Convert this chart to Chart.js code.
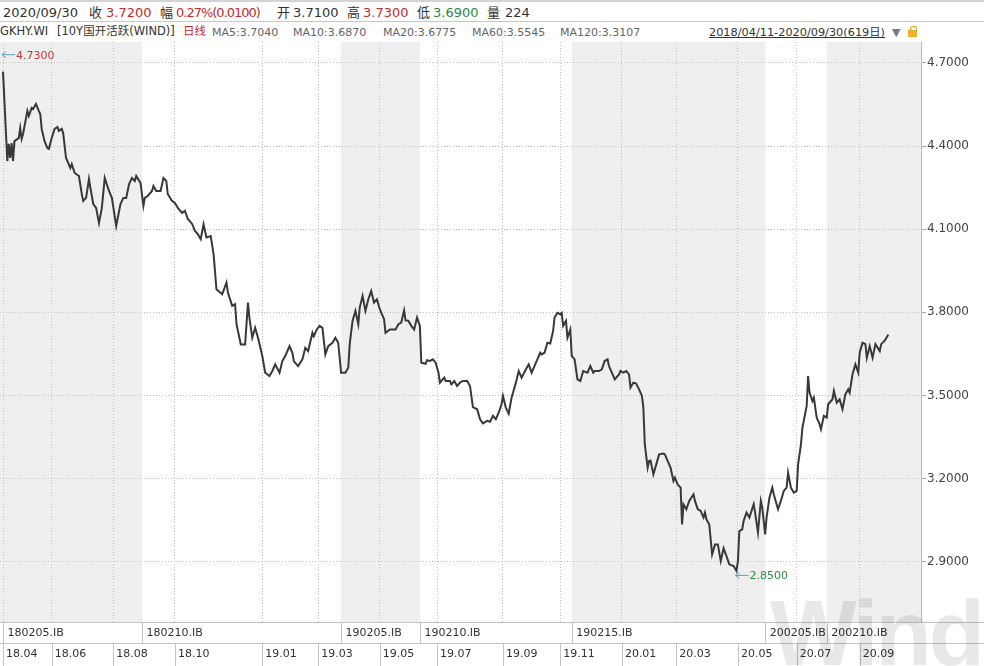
<!DOCTYPE html>
<html><head><meta charset="utf-8">
<script src="https://cdn.jsdelivr.net/npm/chart.js@4.4.0/dist/chart.umd.min.js"></script>
<style>
html,body{margin:0;padding:0;background:#fff;}
#wrap{position:relative;width:984px;height:666px;overflow:hidden;font-family:"DejaVu Sans","Noto Sans CJK SC",sans-serif;background:#fff;}
.t{position:absolute;white-space:nowrap;line-height:1;}
.r1{font-size:13px;top:6px;color:#333;}
.r2{font-size:11.5px;top:26px;color:#333;}
.ma{color:#666;font-size:11px;top:27px;}
.red{color:#c62b2b;}
.grn{color:#248a3d;}
#cv{position:absolute;left:0;top:42px;}
#wm{position:absolute;left:770px;top:587px;font-family:"Liberation Sans",sans-serif;font-weight:bold;font-size:92px;color:rgba(0,0,0,0.09);line-height:1;pointer-events:none;letter-spacing:-3px;}
</style>
</head><body>
<div id="wrap">
  <div style="position:absolute;left:0;top:0;width:984px;height:2px;background:#d4d4d4;"></div>
  <div style="position:absolute;left:0;top:21px;width:984px;height:1px;background:#c8c8c8;"></div>
  <span class="t r1" style="left:3px">2020/09/30</span>
  <span class="t r1" style="left:89px">收</span>
  <span class="t r1 red" style="left:106px">3.7200</span>
  <span class="t r1" style="left:160px">幅</span>
  <span class="t r1 red" style="left:176px;letter-spacing:-1px">0.27%(0.0100)</span>
  <span class="t r1" style="left:277px">开</span>
  <span class="t r1" style="left:293px">3.7100</span>
  <span class="t r1" style="left:347px">高</span>
  <span class="t r1 red" style="left:363px">3.7300</span>
  <span class="t r1" style="left:417px">低</span>
  <span class="t r1 grn" style="left:433px">3.6900</span>
  <span class="t r1" style="left:487px">量</span>
  <span class="t r1" style="left:505px">224</span>

  <span class="t r2" style="left:0px">GKHY.WI</span>
  <span class="t r2" style="left:57px">[10Y国开活跃(WIND)]</span>
  <span class="t r2 red" style="left:183px">日线</span>
  <span class="t r2 ma" style="left:212px">MA5:3.7040</span>
  <span class="t r2 ma" style="left:293px">MA10:3.6870</span>
  <span class="t r2 ma" style="left:383px">MA20:3.6775</span>
  <span class="t r2 ma" style="left:472px">MA60:3.5545</span>
  <span class="t r2 ma" style="left:560px">MA120:3.3107</span>
  <span class="t r2" style="left:709px;font-size:11.3px;top:27px;text-decoration:underline;">2018/04/11-2020/09/30(619日)</span>
  <span class="t r2" style="left:892px;color:#777;font-size:11px;top:27px">▼</span>
  <div style="position:absolute;left:908px;top:30px;width:9px;height:7px;background:#f0b030;"></div>
  <div style="position:absolute;left:910px;top:26px;width:5px;height:4px;border:1px solid #e0a020;border-bottom:none;border-radius:3px 3px 0 0;"></div>

  <canvas id="cv" width="984" height="624"></canvas>
  <div id="wm">Wind</div>
</div>
<script>
// ---- data ----
const dayIndex = [0,3,4,5,6,7,8,11,12,13,14,17,18,20,21,23,25,26,27,29,31,32,34,36,38,39,41,42,44,47,48,50,53,55,56,58,60,61,63,65,67,69,71,74,76,79,82,84,86,88,90,92,93,96,98,99,101,104,105,107,110,112,114,115,118,120,122,125,127,129,132,134,136,138,140,142,145,147,149,153,156,157,160,162,163,166,169,171,172,174,176,178,181,183,186,188,190,193,195,197,200,202,203,206,209,211,213,216,217,219,221,223,225,227,230,232,234,236,239,241,242,244,246,248,249,251,253,255,257,259,261,263,266,267,270,274,276,278,280,281,283,285,287,289,291,292,295,296,298,300,302,304,305,308,309,312,313,315,317,319,321,324,326,328,331,333,335,338,340,342,344,346,348,349,351,353,355,358,360,362,365,367,369,371,373,375,376,378,380,382,384,385,387,389,390,391,393,394,396,397,399,401,403,405,408,410,412,413,416,418,420,422,423,425,427,430,431,433,435,437,438,440,442,444,446,447,448,450,451,452,454,456,458,461,462,465,466,468,469,471,473,474,475,477,479,482,483,485,487,489,490,491,493,495,497,499,501,503,505,507,510,512,513,514,516,517,519,521,524,525,527,529,530,532,533,535,537,538,541,543,545,547,548,550,552,554,555,557,558,561,562,563,565,566,568,570,571,573,575,576,579,580,582,584,586,588,590,591,593,595,597,598,600,602,603,605,607,609,612,613,615,616,618];
const closeValues = [4.669,4.346,4.408,4.357,4.411,4.346,4.418,4.429,4.465,4.426,4.444,4.527,4.509,4.538,4.534,4.552,4.527,4.516,4.462,4.418,4.393,4.390,4.429,4.462,4.469,4.455,4.462,4.447,4.357,4.321,4.335,4.303,4.292,4.227,4.202,4.213,4.281,4.249,4.191,4.177,4.122,4.177,4.285,4.238,4.213,4.112,4.191,4.213,4.213,4.263,4.285,4.274,4.292,4.267,4.184,4.213,4.220,4.238,4.256,4.238,4.238,4.285,4.274,4.227,4.202,4.195,4.177,4.159,4.166,4.137,4.119,4.094,4.082,4.064,4.118,4.070,4.075,4.009,3.883,3.865,3.907,3.871,3.823,3.829,3.757,3.684,3.684,3.835,3.781,3.708,3.744,3.708,3.642,3.582,3.570,3.588,3.612,3.582,3.624,3.642,3.678,3.654,3.624,3.606,3.630,3.672,3.660,3.726,3.714,3.738,3.751,3.744,3.648,3.678,3.690,3.708,3.690,3.582,3.582,3.600,3.684,3.769,3.805,3.757,3.817,3.859,3.805,3.847,3.877,3.835,3.847,3.811,3.775,3.726,3.738,3.738,3.757,3.763,3.807,3.771,3.769,3.751,3.738,3.781,3.751,3.618,3.614,3.627,3.624,3.630,3.618,3.582,3.546,3.564,3.552,3.552,3.540,3.552,3.534,3.546,3.552,3.552,3.534,3.458,3.450,3.414,3.399,3.408,3.405,3.426,3.414,3.438,3.468,3.498,3.456,3.434,3.492,3.546,3.588,3.564,3.594,3.612,3.582,3.606,3.630,3.654,3.648,3.654,3.690,3.687,3.733,3.781,3.798,3.793,3.798,3.751,3.769,3.708,3.738,3.642,3.630,3.558,3.552,3.588,3.582,3.606,3.582,3.588,3.588,3.594,3.624,3.630,3.606,3.582,3.558,3.576,3.588,3.582,3.588,3.576,3.528,3.546,3.543,3.522,3.498,3.456,3.323,3.239,3.263,3.265,3.215,3.251,3.287,3.290,3.287,3.251,3.239,3.191,3.203,3.178,3.167,3.034,3.107,3.089,3.119,3.143,3.119,3.089,3.083,3.059,3.077,3.053,3.034,2.926,2.962,2.962,2.902,2.948,2.920,2.890,2.884,2.866,2.902,3.010,3.016,3.047,3.077,3.059,3.107,3.077,3.005,3.119,3.095,2.998,3.059,3.131,3.167,3.143,3.089,3.119,3.155,3.167,3.221,3.167,3.149,3.155,3.251,3.323,3.383,3.462,3.570,3.510,3.480,3.492,3.420,3.396,3.378,3.426,3.420,3.468,3.486,3.516,3.474,3.486,3.450,3.504,3.522,3.510,3.576,3.612,3.582,3.654,3.690,3.685,3.636,3.678,3.636,3.685,3.660,3.685,3.695,3.702,3.720];

const monthLabels = ['18.04','18.06','18.08','18.10','19.01','19.03','19.05','19.07','19.09','19.11','20.01','20.03','20.05','20.07','20.09'];
const monthIdx    = [0,34,77,120,181,220,263,303,349,389,432,470,513,554,598];

const contractNames = ['180205.IB','180210.IB','190205.IB','190210.IB','190215.IB','200205.IB','200210.IB'];
const contractStart = [0,97,236,291,397,532,575];

const yTicks = [2.9,3.2,3.5,3.8,4.1,4.4,4.7];

const markIdx    = [0, 512];
const markValues = [4.73, 2.85];
const markLabels = ['4.7300','2.8500'];
const markColors = ['#c8383a','#2e8d45'];

// ---- drawing ----
const X_MIN = -2.1, X_MAX = 640.8, Y_MIN = 2.6819, Y_MAX = 4.7758;
const FONT = '"DejaVu Sans", sans-serif';

const bandPlugin = {
  id: 'bands',
  beforeDraw(chart) {
    const {ctx, chartArea: a, scales: {x}} = chart;
    ctx.save();
    ctx.fillStyle = '#fff';
    ctx.fillRect(0, 0, chart.width, chart.height);
    ctx.fillStyle = '#efefef';
    for (let i = 0; i < contractStart.length; i += 2) {
      const x0 = i === 0 ? a.left : x.getPixelForValue(contractStart[i]);
      const x1 = i + 1 < contractStart.length ? x.getPixelForValue(contractStart[i + 1]) : a.right;
      ctx.fillRect(x0, a.top, x1 - x0, a.bottom - a.top);
    }
    ctx.restore();
  }
};

const bottomPlugin = {
  id: 'bottomRows',
  afterDraw(chart) {
    const {ctx, chartArea: a, scales: {x}} = chart;
    const rowMid = a.bottom + 21;
    ctx.save();
    ctx.strokeStyle = '#c4c4c4';
    ctx.lineWidth = 1;
    ctx.beginPath();
    ctx.moveTo(0, a.bottom + 0.5); ctx.lineTo(chart.width, a.bottom + 0.5);
    ctx.moveTo(0, rowMid + 0.5); ctx.lineTo(chart.width, rowMid + 0.5);
    contractStart.forEach(v => {
      const px = Math.round(x.getPixelForValue(v)) + 0.5;
      ctx.moveTo(px, a.bottom); ctx.lineTo(px, rowMid);
    });
    monthIdx.forEach(v => {
      const px = Math.round(x.getPixelForValue(v)) + 0.5;
      ctx.moveTo(px, rowMid); ctx.lineTo(px, chart.height);
    });
    ctx.stroke();
    ctx.fillStyle = '#333';
    ctx.font = '11px ' + FONT;
    ctx.textBaseline = 'middle';
    ctx.textAlign = 'left';
    contractNames.forEach((n, i) => {
      ctx.fillText(n, x.getPixelForValue(contractStart[i]) + 4.5, a.bottom + 11);
    });
    ctx.restore();
  }
};

const markPlugin = {
  id: 'marks',
  afterDatasetsDraw(chart) {
    const {ctx, scales: {x, y}} = chart;
    ctx.save();
    markIdx.forEach((d, i) => {
      const px = x.getPixelForValue(d), py = y.getPixelForValue(markValues[i]);
      const tip = px - 1;
      ctx.strokeStyle = '#5f9fb8';
      ctx.lineWidth = 1;
      ctx.beginPath();
      ctx.moveTo(tip, py); ctx.lineTo(tip + 13, py);
      ctx.moveTo(tip + 4, py - 3); ctx.lineTo(tip, py); ctx.lineTo(tip + 4, py + 3);
      ctx.stroke();
      ctx.fillStyle = markColors[i];
      ctx.font = '11px ' + FONT;
      ctx.textBaseline = 'middle';
      ctx.textAlign = 'left';
      ctx.fillText(markLabels[i], tip + 14, py + 1);
    });
    ctx.restore();
  }
};

new Chart(document.getElementById('cv').getContext('2d'), {
  type: 'line',
  data: {
    datasets: [{
      data: dayIndex.map((d, i) => ({x: d, y: closeValues[i]})),
      borderColor: '#383838',
      borderWidth: 2,
      pointRadius: 0,
      tension: 0,
      fill: false
    }]
  },
  options: {
    responsive: false,
    animation: false,
    events: [],
    layout: {padding: 0},
    plugins: {legend: {display: false}, tooltip: {enabled: false}},
    scales: {
      x: {
        type: 'linear', min: X_MIN, max: X_MAX,
        afterBuildTicks: s => { s.ticks = monthIdx.map(v => ({value: v})); },
        ticks: {
          callback: (v, i) => monthLabels[i],
          align: 'start', labelOffset: 3, padding: 0, autoSkip: false, maxRotation: 0,
          color: '#333', font: {family: FONT, size: 11}
        },
        grid: {color: '#c0c0c0', lineWidth: 1, drawTicks: true, tickLength: 26, tickColor: 'rgba(0,0,0,0)'},
        border: {display: true, color: '#c4c4c4', dash: [1, 2]},
        afterFit: s => { s.height = 44; s.paddingLeft = 0; s.paddingRight = 0; }
      },
      y: {
        position: 'right', min: Y_MIN, max: Y_MAX,
        afterBuildTicks: s => { s.ticks = yTicks.map(v => ({value: v})); },
        ticks: {
          callback: v => v.toFixed(4), padding: 1,
          color: '#444', font: {family: FONT, size: 12}
        },
        grid: {color: '#c0c0c0', lineWidth: 1, drawTicks: true, tickLength: 5, tickColor: '#a8a8a8'},
        border: {display: true, color: '#bcbcbc', dash: [1, 2]},
        afterFit: s => { s.width = 63; s.paddingTop = 0; s.paddingBottom = 0; }
      }
    }
  },
  plugins: [bandPlugin, bottomPlugin, markPlugin]
});
</script>
</body></html>
